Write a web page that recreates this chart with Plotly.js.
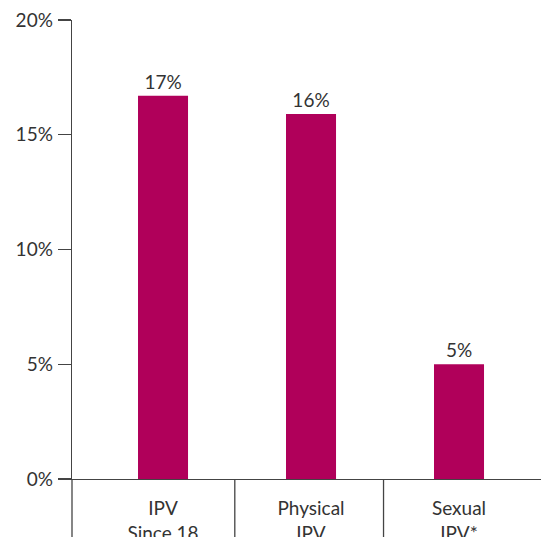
<!DOCTYPE html>
<html>
<head>
<meta charset="utf-8">
<script src="https://cdn.plot.ly/plotly-3.0.1.min.js"></script>
<style>html,body{margin:0;padding:0;overflow:hidden;background:#fff;}</style>
</head>
<body>
<div id="chart" style="width:541px;height:537px;"></div>
<script>
const categories = ["IPV<br>Since 18", "Physical<br>IPV", "Sexual<br>IPV*"];
const values = [16.7, 15.9, 5.0];
const valueLabels = ["17%", "16%", "5%"];
const yTickVals = [0, 5, 10, 15, 20];
const yTickText = ["0%", "5%", "10%", "15%", "20%"];
const separators = [0.485, 1.49];

const positions = categories.map((c, i) => i);
const lineColor = "#444";
const textColor = "#333";

const trace = {
  type: "bar",
  x: positions,
  y: values,
  width: 0.338,
  marker: {color: "#B0005A"},
  text: valueLabels,
  textposition: "outside",
  cliponaxis: false,
  textfont: {color: textColor, size: 19, family: "Lato, sans-serif"},
  hoverinfo: "skip"
};

const shapes = separators.map(s => ({
  type: "line", xref: "x", yref: "paper", x0: s, x1: s, y0: 0, y1: -0.2,
  line: {color: lineColor, width: 1.3}
}));
shapes.push({type: "line", xref: "paper", yref: "paper", x0: 0, x1: 0, y0: 0, y1: -0.2,
  line: {color: lineColor, width: 1.3}});

const layout = {
  width: 541, height: 537,
  margin: {l: 72, r: 0, t: 20, b: 58},
  paper_bgcolor: "#fff", plot_bgcolor: "#fff",
  font: {family: "Lato, sans-serif", size: 19, color: textColor},
  showlegend: false,
  xaxis: {
    type: "linear",
    range: [-0.615, 2.554],
    tickmode: "array",
    tickvals: positions,
    ticktext: categories,
    ticks: "",
    showgrid: false, zeroline: false,
    showline: true, linecolor: lineColor, linewidth: 1.3,
    tickfont: {size: 19, color: textColor},
    ticklabelstandoff: 12,
    fixedrange: true
  },
  yaxis: {
    range: [0, 20],
    tickmode: "array",
    tickvals: yTickVals,
    ticktext: yTickText,
    ticks: "outside", ticklen: 13, tickwidth: 1.3, tickcolor: lineColor,
    showgrid: false, zeroline: false,
    showline: true, linecolor: lineColor, linewidth: 1.3,
    tickfont: {size: 19, color: textColor},
    ticklabelstandoff: 1,
    fixedrange: true
  },
  shapes: shapes
};

Plotly.newPlot("chart", [trace], layout, {displayModeBar: false, staticPlot: true});
</script>
</body>
</html>
